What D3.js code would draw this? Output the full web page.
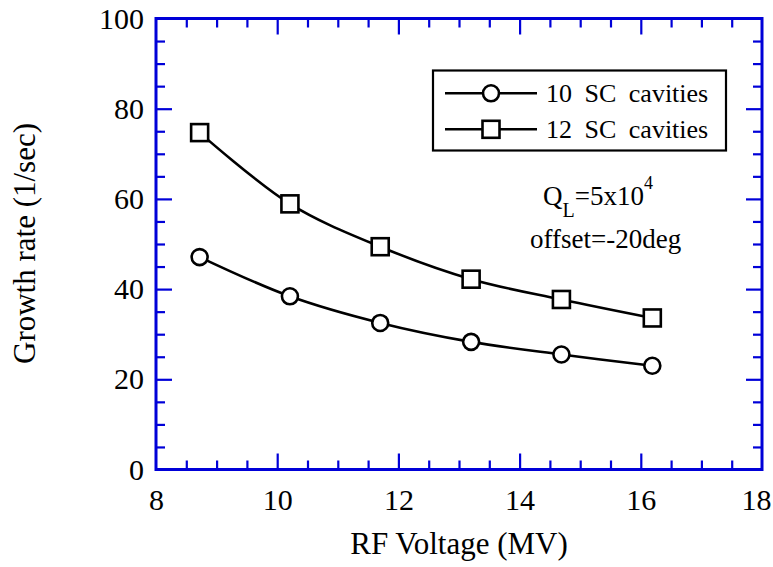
<!DOCTYPE html>
<html><head><meta charset="utf-8">
<script src="https://cdn.jsdelivr.net/npm/d3@7"></script>
<style>
body{margin:0;background:#fff;}
svg text{font-family:'Liberation Serif','Times New Roman',Tinos,'DejaVu Serif',serif !important;fill:#000;}
</style></head>
<body>
<svg id="chart" width="773" height="567"></svg>
<script>
const xValues = [8.72, 10.21, 11.7, 13.2, 14.69, 16.19];
const series10 = [47.1, 38.4, 32.5, 28.3, 25.5, 23.0];
const series12 = [74.7, 58.9, 49.4, 42.2, 37.7, 33.6];
const seriesNames = ["10 SC cavities", "12 SC cavities"];
const xMajorTicks = [8, 10, 12, 14, 16, 18];
const yMajorTicks = [0, 20, 40, 60, 80, 100];
const xTitle = "RF Voltage (MV)";
const yTitle = "Growth rate (1/sec)";

const FONT = "'Liberation Serif','Times New Roman',Tinos,'DejaVu Serif',serif";
const svg = d3.select("#chart");
const m = {left:156, top:18.5, right:11, bottom:97.5};
const W = 773 - m.left - m.right, H = 567 - m.top - m.bottom;
const g = svg.append("g").attr("transform", `translate(${m.left},${m.top})`);
const x = d3.scaleLinear().domain([8, 18]).range([0, W]);
const y = d3.scaleLinear().domain([0, 100]).range([H, 0]);
const blue = "#0000d8";

const xMinor = d3.range(8, 18.001, 0.5).filter(v => Math.abs(v/2 - Math.round(v/2)) > 1e-6);
const yMinor = d3.range(0, 100.001, 5).filter(v => v % 20 !== 0);

function styleAxis(sel, labels) {
  sel.attr("font-family", FONT);
  sel.selectAll(".domain").remove();
  sel.selectAll(".tick line").attr("stroke", blue).attr("stroke-width", 2.2);
  if (!labels) sel.selectAll(".tick text").remove();
  else sel.selectAll(".tick text").attr("font-size", 30).style("font-family", FONT);
}
// bottom
g.append("g").attr("transform", `translate(0,${H})`)
  .call(d3.axisBottom(x).tickValues(xMajorTicks.slice(1, -1)).tickSize(-16).tickFormat(""))
  .call(s => styleAxis(s, false));
g.append("g").attr("transform", `translate(0,${H})`)
  .call(d3.axisBottom(x).tickValues(xMinor).tickSize(-9).tickFormat(""))
  .call(s => styleAxis(s, false));
g.append("g").attr("transform", `translate(0,${H})`)
  .call(d3.axisBottom(x).tickValues(xMajorTicks).tickSize(0).tickPadding(19).tickFormat(d3.format("d")))
  .call(s => styleAxis(s, true))
  .selectAll(".tick text").attr("dy", "0.71em")
  .attr("dx", (d, i, n) => i === n.length - 1 ? -6 : 0);
// top
g.append("g")
  .call(d3.axisTop(x).tickValues(xMajorTicks.slice(1, -1)).tickSize(-16).tickFormat(""))
  .call(s => styleAxis(s, false));
g.append("g")
  .call(d3.axisTop(x).tickValues(xMinor).tickSize(-9).tickFormat(""))
  .call(s => styleAxis(s, false));
// left
g.append("g")
  .call(d3.axisLeft(y).tickValues(yMajorTicks.slice(1, -1)).tickSize(-16).tickFormat(""))
  .call(s => styleAxis(s, false));
g.append("g")
  .call(d3.axisLeft(y).tickValues(yMinor).tickSize(-9).tickFormat(""))
  .call(s => styleAxis(s, false));
g.append("g")
  .call(d3.axisLeft(y).tickValues(yMajorTicks).tickSize(0).tickPadding(12).tickFormat(d3.format("d")))
  .call(s => styleAxis(s, true));
// right
g.append("g").attr("transform", `translate(${W},0)`)
  .call(d3.axisRight(y).tickValues(yMajorTicks.slice(1, -1)).tickSize(-16).tickFormat(""))
  .call(s => styleAxis(s, false));
g.append("g").attr("transform", `translate(${W},0)`)
  .call(d3.axisRight(y).tickValues(yMinor).tickSize(-9).tickFormat(""))
  .call(s => styleAxis(s, false));

// frame
g.append("rect").attr("x", 0).attr("y", 0).attr("width", W).attr("height", H)
  .attr("fill", "none").attr("stroke", blue).attr("stroke-width", 3);

// titles
svg.append("text").attr("x", m.left + W/2).attr("y", 554).attr("text-anchor", "middle")
  .attr("font-size", 31).style("font-family", FONT).text(xTitle);
svg.append("text").attr("transform", `translate(35,243.5) rotate(-90)`)
  .attr("text-anchor", "middle").attr("font-size", 31).style("font-family", FONT).text(yTitle);

// lines
const line = d3.line().x(d => x(d[0])).y(d => y(d[1])).curve(d3.curveCatmullRom.alpha(0.5));
const data = [series10, series12].map(s => xValues.map((v, i) => [v, s[i]]));
data.forEach(d => {
  g.append("path").datum(d).attr("d", line).attr("fill", "none")
    .attr("stroke", "#000").attr("stroke-width", 2.6);
});
const R = 8, S = 17;
g.selectAll(".c").data(data[0]).enter().append("circle")
  .attr("cx", d => x(d[0])).attr("cy", d => y(d[1])).attr("r", R)
  .attr("fill", "#fff").attr("stroke", "#000").attr("stroke-width", 2.6);
g.selectAll(".s").data(data[1]).enter().append("rect")
  .attr("x", d => x(d[0]) - S/2).attr("y", d => y(d[1]) - S/2).attr("width", S).attr("height", S)
  .attr("fill", "#fff").attr("stroke", "#000").attr("stroke-width", 2.6);

// legend
const lg = svg.append("g");
lg.append("rect").attr("x", 433).attr("y", 70.5).attr("width", 293).attr("height", 80)
  .attr("fill", "#fff").attr("stroke", "#000").attr("stroke-width", 2.2);
[93.3, 129.3].forEach((ly, i) => {
  lg.append("line").attr("x1", 445).attr("x2", 537).attr("y1", ly).attr("y2", ly)
    .attr("stroke", "#000").attr("stroke-width", 2.6);
  if (i === 0) lg.append("circle").attr("cx", 491).attr("cy", ly).attr("r", R)
    .attr("fill", "#fff").attr("stroke", "#000").attr("stroke-width", 2.6);
  else lg.append("rect").attr("x", 491 - S/2).attr("y", ly - S/2).attr("width", S).attr("height", S)
    .attr("fill", "#fff").attr("stroke", "#000").attr("stroke-width", 2.6);
  lg.append("text").attr("x", 546).attr("y", ly + 9).attr("font-size", 26).style("font-family", FONT)
    .attr("word-spacing", "6px").text(seriesNames[i]);
});

// annotation
const a1 = svg.append("text").attr("x", 543).attr("y", 205).attr("font-size", 27).style("font-family", FONT);
a1.append("tspan").text("Q");
a1.append("tspan").attr("dy", 12).attr("font-size", 20).text("L");
a1.append("tspan").attr("dy", -12).text("=5x10");
a1.append("tspan").attr("dy", -16).attr("font-size", 18).text("4");
svg.append("text").attr("x", 530).attr("y", 248).attr("font-size", 27).style("font-family", FONT).text("offset=-20deg");
</script>
</body></html>
